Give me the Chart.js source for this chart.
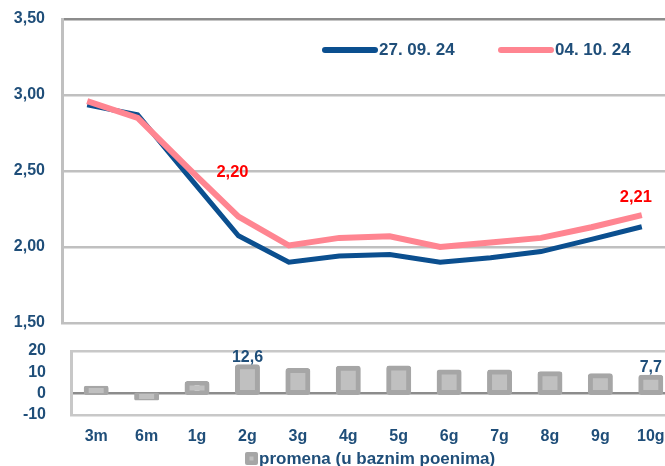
<!DOCTYPE html>
<html>
<head>
<meta charset="utf-8">
<script src="https://cdn.jsdelivr.net/npm/chart.js@4"></script>
<style>
  html, body { margin: 0; padding: 0; overflow: hidden; background: #fff; }
  #wrap { position: relative; width: 665px; height: 466px; overflow: hidden; }
  #curveChart { position: absolute; left: 0; top: 0; }
  #changeChart { position: absolute; left: 0; top: 330px; }
</style>
</head>
<body>
<div id="wrap">
  <canvas id="curveChart" width="680" height="330"></canvas>
  <canvas id="changeChart" width="700" height="136"></canvas>
</div>
<script>
// yield curve data
const tenors = ['3m', '6m', '1g', '2g', '3g', '4g', '5g', '6g', '7g', '8g', '9g', '10g'];
const yieldOld = [2.935, 2.87, 2.47, 2.074, 1.90, 1.94, 1.95, 1.90, 1.93, 1.97, 2.05, 2.133];
const yieldNew = [2.96, 2.85, 2.52, 2.20, 2.01, 2.06, 2.07, 2.00, 2.03, 2.06, 2.13, 2.21];
const changeBp = [2.5, -2.0, 4.8, 12.6, 10.9, 11.9, 12.0, 10.2, 10.2, 9.3, 8.4, 7.7];
const seriesNames = ['27. 09. 24', '04. 10. 24'];
const changeName = 'promena (u baznim poenima)';
const labelledIdx = [3, 11];

const BLUE = '#0b4f8f';
const PINK = '#ff8591';
const TEXT = '#1f4e79';
const FONT = "'Liberation Sans', Arial, sans-serif";

Chart.defaults.font.family = FONT;
Chart.defaults.font.size = 16;
Chart.defaults.font.weight = 'bold';
Chart.defaults.color = TEXT;

function comma(v, d) {
    return v.toFixed(d).replace('.', ',');
}

// fixed axis width, and no extra vertical padding from tick labels
function fixWidth(w) {
    return function(scale) {
        scale.width = w;
        scale.paddingTop = 0;
        scale.paddingBottom = 0;
    };
}

// legend inside the top plot
const curveLegend = {
    id: 'curveLegend',
    afterDraw(chart) {
        const ctx = chart.ctx;
        const xs = [325, 501];
        const y = 50;
        ctx.save();
        ctx.font = 'bold 17px ' + FONT;
        ctx.textBaseline = 'middle';
        ctx.lineCap = 'round';
        chart.data.datasets.forEach((ds, i) => {
            ctx.strokeStyle = ds.borderColor;
            ctx.lineWidth = 6;
            ctx.beginPath();
            ctx.moveTo(xs[i], y);
            ctx.lineTo(xs[i] + 50, y);
            ctx.stroke();
            ctx.fillStyle = TEXT;
            ctx.fillText(ds.label, xs[i] + 54, y);
        });
        ctx.restore();
    }
};

// red value labels on the 04.10. curve
const curveLabels = {
    id: 'curveLabels',
    afterDatasetsDraw(chart) {
        const ctx = chart.ctx;
        const meta = chart.getDatasetMeta(1);
        const offsets = { 3: [-6, -44], 11: [-6, -18] };
        ctx.save();
        ctx.font = 'bold 16.5px ' + FONT;
        ctx.fillStyle = '#ff0000';
        ctx.textAlign = 'center';
        ctx.textBaseline = 'middle';
        labelledIdx.forEach(i => {
            const p = meta.data[i];
            const o = offsets[i];
            ctx.fillText(comma(yieldNew[i], 2), p.x + o[0], p.y + o[1]);
        });
        ctx.restore();
    }
};

new Chart(document.getElementById('curveChart'), {
    type: 'line',
    data: {
        labels: tenors,
        datasets: [{
            label: seriesNames[0],
            data: yieldOld,
            borderColor: BLUE,
            borderWidth: 5,
            pointRadius: 0,
            tension: 0,
            order: 1
        }, {
            label: seriesNames[1],
            data: yieldNew,
            borderColor: PINK,
            borderWidth: 6,
            pointRadius: 0,
            tension: 0,
            order: 0
        }]
    },
    options: {
        responsive: false,
        animation: false,
        layout: { padding: { left: 0, right: 13, top: 19, bottom: 7 } },
        plugins: {
            legend: { display: false },
            tooltip: { enabled: false }
        },
        scales: {
            x: {
                display: false,
                offset: true
            },
            y: {
                min: 1.5,
                max: 3.5,
                afterFit: fixWidth(62),
                ticks: {
                    stepSize: 0.5,
                    padding: 17,
                    autoSkip: false,
                    callback: function(value) { return comma(value, 2); }
                },
                grid: {
                    drawTicks: false,
                    lineWidth: 2.5,
                    color: function(ctx) {
                        return ctx.tick && ctx.tick.value === 3.5 ? '#8c8c8c' : '#c0c0c0';
                    }
                },
                border: { display: true, color: '#c0c0c0', width: 3 }
            }
        }
    },
    plugins: [curveLegend, curveLabels]
});

// bar labels and legend for the change panel
const changeExtras = {
    id: 'changeExtras',
    afterDraw(chart) {
        const ctx = chart.ctx;
        const meta = chart.getDatasetMeta(0);
        ctx.save();
        ctx.font = 'bold 16px ' + FONT;
        ctx.fillStyle = TEXT;
        ctx.textAlign = 'center';
        ctx.textBaseline = 'middle';
        labelledIdx.forEach(i => {
            const b = meta.data[i];
            ctx.fillText(comma(changeBp[i], 1), b.x, b.y - 9.5);
        });
        // legend marker + text
        const ds = chart.data.datasets[0];
        ctx.fillStyle = ds.borderColor;
        ctx.beginPath();
        ctx.roundRect(245, 122, 13, 13, 2);
        ctx.fill();
        ctx.fillStyle = ds.backgroundColor;
        ctx.fillRect(249.5, 126.5, 4, 4);
        ctx.fillStyle = TEXT;
        ctx.textAlign = 'left';
        ctx.font = 'bold 17px ' + FONT;
        ctx.fillText(ds.label, 259, 129);
        ctx.restore();
    }
};

new Chart(document.getElementById('changeChart'), {
    type: 'bar',
    data: {
        labels: tenors,
        datasets: [{
            label: changeName,
            data: changeBp,
            backgroundColor: '#c0c0c0',
            borderColor: '#a6a6a6',
            borderWidth: 5,
            borderSkipped: false,
            borderRadius: 3,
            inflateAmount: 2.5,
            barThickness: 20
        }]
    },
    options: {
        responsive: false,
        animation: false,
        layout: { padding: { left: 0, right: 24, top: 21, bottom: 20 } },
        plugins: {
            legend: { display: false },
            tooltip: { enabled: false }
        },
        scales: {
            x: {
                afterFit: function(scale) {
                    scale.height = 31;
                    scale.paddingLeft = 0;
                    scale.paddingRight = 0;
                },
                ticks: { padding: 12, autoSkip: false },
                grid: { display: false, drawTicks: false },
                border: { display: false }
            },
            y: {
                min: -10,
                max: 20,
                afterFit: fixWidth(71),
                ticks: { stepSize: 10, padding: 25, autoSkip: false },
                grid: {
                    drawTicks: false,
                    lineWidth: 2.5,
                    color: function(ctx) {
                        if (!ctx.tick) return '#c8c8c8';
                        if (ctx.tick.value === 0) return '#8c8c8c';
                        if (ctx.tick.value === 10) return 'rgba(0,0,0,0)';
                        return '#c8c8c8';
                    }
                },
                border: { display: true, color: '#c8c8c8', width: 3 }
            }
        }
    },
    plugins: [changeExtras]
});
</script>
</body>
</html>
